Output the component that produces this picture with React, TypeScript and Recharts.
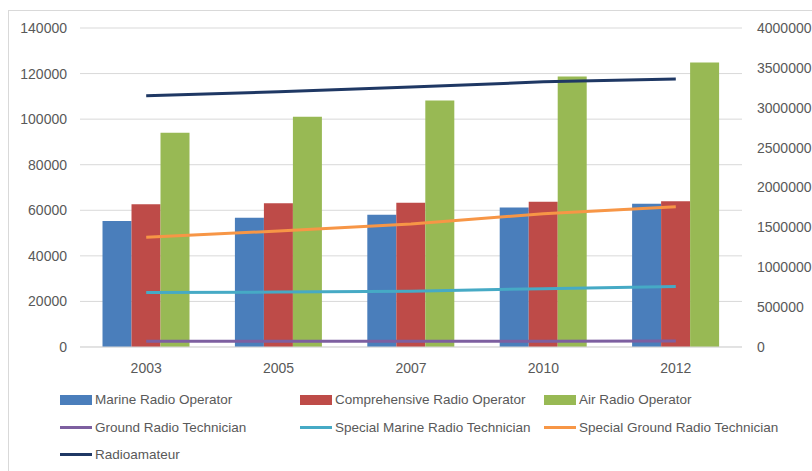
import {
  ComposedChart,
  Bar,
  Line,
  XAxis,
  YAxis,
  CartesianGrid,
  Legend,
} from "recharts";

const years = ["2003", "2005", "2007", "2010", "2012"];
const marineRadioOperator = [55300, 56700, 58000, 61200, 62900];
const comprehensiveRadioOperator = [62700, 63100, 63300, 63700, 64000];
const airRadioOperator = [94000, 101000, 108200, 118700, 124900];
const groundRadioTechnician = [2500, 2500, 2500, 2500, 2600];
const specialMarineRadioTechnician = [23900, 24100, 24500, 25600, 26500];
const specialGroundRadioTechnician = [48200, 50900, 54000, 58500, 61600];
const radioamateur = [3150000, 3200000, 3260000, 3325000, 3360000];

const leftTicks = [0, 20000, 40000, 60000, 80000, 100000, 120000, 140000];
const rightTicks = [0, 500000, 1000000, 1500000, 2000000, 2500000, 3000000, 3500000, 4000000];

const FONT = "'Liberation Sans', Arial, sans-serif";
const TEXT = "#595959";

const legendItems = [
  { name: "Marine Radio Operator", color: "#4a7ebb", type: "rect" },
  { name: "Comprehensive Radio Operator", color: "#be4b48", type: "rect" },
  { name: "Air Radio Operator", color: "#98b954", type: "rect" },
  { name: "Ground Radio Technician", color: "#7d5fa0", type: "line" },
  { name: "Special Marine Radio Technician", color: "#46aac5", type: "line" },
  { name: "Special Ground Radio Technician", color: "#f79646", type: "line" },
  { name: "Radioamateur", color: "#1f3864", type: "line" },
];

// columns start at 60, 300, 544 in page coords
const colLeft = [51, 291, 535];

function ChartLegend() {
  return (
    <div style={{ position: "relative", height: 92, fontFamily: FONT, fontSize: 13.5, color: TEXT }}>
      {legendItems.map((item, i) => {
        const row = Math.floor(i / 3);
        const col = i % 3;
        return (
          <div
            key={item.name}
            style={{
              position: "absolute",
              left: colLeft[col],
              top: 9 + row * 27.5,
              height: 27.5,
              display: "flex",
              alignItems: "center",
              whiteSpace: "nowrap",
            }}
          >
            <span
              style={{
                display: "inline-block",
                width: 32,
                height: item.type === "rect" ? 10 : 3,
                background: item.color,
                marginRight: 3,
              }}
            />
            {item.name}
          </div>
        );
      })}
    </div>
  );
}

export default function App() {
  const data = years.map((year, i) => ({
    year,
    marine: marineRadioOperator[i],
    comprehensive: comprehensiveRadioOperator[i],
    air: airRadioOperator[i],
    ground: groundRadioTechnician[i],
    specialMarine: specialMarineRadioTechnician[i],
    specialGround: specialGroundRadioTechnician[i],
    radioamateur: radioamateur[i],
  }));

  const tick = { fill: TEXT, fontSize: 14, fontFamily: FONT };

  return (
    <div style={{ position: "relative", width: 812, height: 471, overflow: "hidden" }}>
      <style>{"body{margin:0;overflow:hidden}"}</style>
      <div
        style={{
          position: "absolute",
          left: 8,
          top: 10,
          width: 804,
          height: 461,
          borderTop: "1px solid #d9d9d9",
          borderLeft: "1px solid #d9d9d9",
          background: "#fff",
        }}
      >
        <ComposedChart
          width={803}
          height={460}
          data={data}
          margin={{ top: 17, right: 0, bottom: 2, left: 0 }}
          barCategoryGap="17%"
          barGap={0}
        >
          <CartesianGrid yAxisId="left" vertical={false} stroke="#d9d9d9" />
          <XAxis
            dataKey="year"
            tick={tick}
            tickLine={false}
            tickSize={0}
            tickMargin={16}
            height={30}
            axisLine={{ stroke: "#d9d9d9" }}
          />
          <YAxis
            yAxisId="left"
            domain={[0, 140000]}
            ticks={leftTicks}
            width={71}
            tick={tick}
            tickLine={false}
            tickSize={0}
            tickMargin={13}
            axisLine={false}
          />
          <YAxis
            yAxisId="right"
            orientation="right"
            domain={[0, 4000000]}
            ticks={rightTicks}
            width={70}
            tick={{ ...tick, textAnchor: "start" }}
            tickLine={false}
            tickSize={0}
            tickMargin={15}
            axisLine={false}
          />
          <Bar yAxisId="left" dataKey="marine" name="Marine Radio Operator" fill="#4a7ebb" isAnimationActive={false} />
          <Bar yAxisId="left" dataKey="comprehensive" name="Comprehensive Radio Operator" fill="#be4b48" isAnimationActive={false} />
          <Bar yAxisId="left" dataKey="air" name="Air Radio Operator" fill="#98b954" isAnimationActive={false} />
          <Line yAxisId="left" dataKey="ground" name="Ground Radio Technician" stroke="#7d5fa0" strokeWidth={3} dot={false} isAnimationActive={false} />
          <Line yAxisId="left" dataKey="specialMarine" name="Special Marine Radio Technician" stroke="#46aac5" strokeWidth={3} dot={false} isAnimationActive={false} />
          <Line yAxisId="left" dataKey="specialGround" name="Special Ground Radio Technician" stroke="#f79646" strokeWidth={3} dot={false} isAnimationActive={false} />
          <Line yAxisId="right" dataKey="radioamateur" name="Radioamateur" stroke="#1f3864" strokeWidth={3} dot={false} isAnimationActive={false} />
          <Legend verticalAlign="bottom" align="left" content={() => <ChartLegend />} />
        </ComposedChart>
      </div>
    </div>
  );
}
